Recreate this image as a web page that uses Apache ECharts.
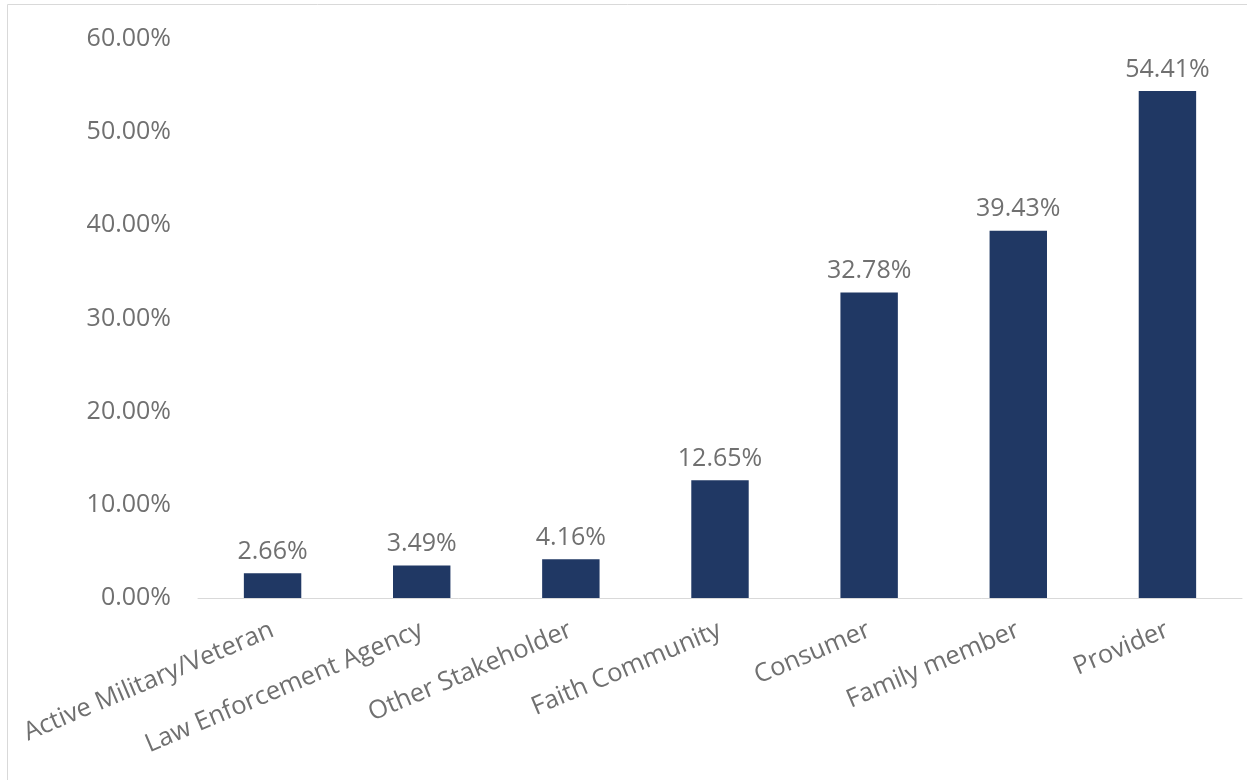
<!DOCTYPE html>
<html>
<head>
<meta charset="utf-8">
<script src="https://cdn.jsdelivr.net/npm/echarts@6/dist/echarts.min.js"></script>
<style>
html,body{margin:0;padding:0;background:#fff;}
#c{width:1247px;height:780px;}
</style>
</head>
<body>
<div id="c"></div>
<script>
const categories = ["Active Military/Veteran", "Law Enforcement Agency", "Other Stakeholder", "Faith Community", "Consumer", "Family member", "Provider"];
const values = [2.66, 3.49, 4.16, 12.65, 32.78, 39.43, 54.41];
const yTicks = [0, 10, 20, 30, 40, 50, 60];

const chart = echarts.init(document.getElementById('c'));
const font = '"Open Sans", "Liberation Sans", sans-serif';
const gray = '#707070';
chart.setOption({
  animation: false,
  graphic: [{
    type: 'rect',
    shape: {x: 7.5, y: 4.5, width: 1300, height: 900},
    style: {fill: 'none', stroke: '#d9d9d9', lineWidth: 1},
    silent: true
  }],
  grid: {left: 198, right: 5, top: 39, bottom: 182, containLabel: false},
  xAxis: {
    type: 'category',
    data: categories,
    axisLine: {show: true, lineStyle: {color: '#d9d9d9', width: 1}},
    axisTick: {show: false},
    axisLabel: {
      rotate: 23, interval: 0, margin: 31,
      color: gray, fontSize: 25.5, fontFamily: font
    }
  },
  yAxis: {
    type: 'value',
    min: yTicks[0], max: yTicks[yTicks.length - 1], interval: 10,
    splitLine: {show: false},
    axisLine: {show: false},
    axisTick: {show: false},
    axisLabel: {
      margin: 27, color: gray, fontSize: 25, fontFamily: font,
      formatter: v => v.toFixed(2) + '%'
    }
  },
  series: [{
    type: 'bar',
    data: values,
    barWidth: '38.5%',
    itemStyle: {color: '#203864'},
    label: {
      show: true, position: 'top', distance: 9,
      color: gray, fontSize: 25, fontFamily: font,
      formatter: p => p.value.toFixed(2) + '%'
    }
  }]
});
</script>
</body>
</html>
